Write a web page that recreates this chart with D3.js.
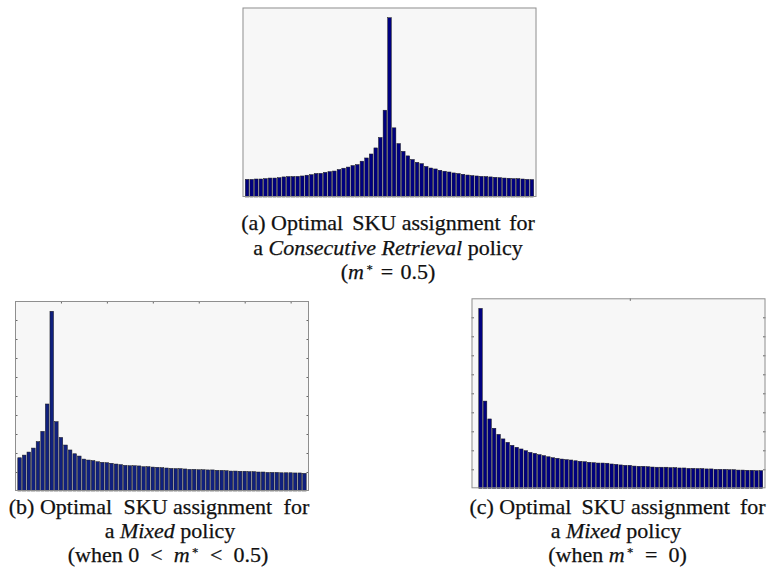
<!DOCTYPE html>
<html>
<head>
<meta charset="utf-8">
<script src="https://cdn.jsdelivr.net/npm/d3@7"></script>
<style>
  html, body { margin: 0; padding: 0; background: #ffffff; }
  svg { display: block; }
</style>
</head>
<body>
<svg id="fig" width="770" height="577"></svg>
<script>
// SKU slot positions along the aisle (1..63)
const slots = d3.range(1, 64);

// Share of picks assigned to each slot, per policy
const consecutiveShare = [
  0.93, 0.93, 0.95, 0.95, 0.97, 1.00, 1.00, 1.02, 1.06, 1.08,
  1.08, 1.09, 1.11, 1.15, 1.18, 1.24, 1.25, 1.30, 1.34, 1.37,
  1.45, 1.52, 1.58, 1.66, 1.71, 1.89, 2.06, 2.27, 2.59, 3.14,
  4.58, 9.46, 3.65, 2.82, 2.41, 2.17, 1.98, 1.83, 1.76, 1.61,
  1.53, 1.48, 1.41, 1.36, 1.32, 1.27, 1.24, 1.20, 1.16, 1.13,
  1.11, 1.09, 1.08, 1.06, 1.04, 1.02, 1.00, 0.99, 0.97, 0.97,
  0.95, 0.93, 0.92
];
const mixedShare = [
  1.75, 1.89, 2.05, 2.26, 2.60, 3.14, 4.58, 9.46, 3.65, 2.82,
  2.42, 2.16, 1.96, 1.84, 1.68, 1.63, 1.60, 1.54, 1.51, 1.49,
  1.46, 1.42, 1.39, 1.35, 1.33, 1.33, 1.32, 1.28, 1.28, 1.26,
  1.25, 1.23, 1.21, 1.19, 1.18, 1.18, 1.16, 1.14, 1.14, 1.12,
  1.12, 1.11, 1.11, 1.09, 1.09, 1.07, 1.05, 1.05, 1.04, 1.04,
  1.02, 1.02, 1.00, 1.00, 0.98, 0.98, 0.98, 0.96, 0.96, 0.96,
  0.95, 0.95, 0.93
];
const zeroShare = [
  9.47, 4.59, 3.65, 3.16, 2.84, 2.60, 2.42, 2.26, 2.16, 2.07,
  1.98, 1.89, 1.84, 1.77, 1.72, 1.66, 1.61, 1.58, 1.54, 1.51,
  1.49, 1.45, 1.42, 1.40, 1.37, 1.35, 1.33, 1.33, 1.32, 1.28,
  1.26, 1.23, 1.21, 1.21, 1.17, 1.16, 1.16, 1.14, 1.12, 1.11,
  1.11, 1.11, 1.09, 1.09, 1.07, 1.07, 1.05, 1.05, 1.04, 1.04,
  1.02, 1.02, 1.00, 1.00, 1.00, 0.98, 0.98, 0.96, 0.96, 0.95,
  0.95, 0.93, 0.93
];

// Axis tick values
const yTicks = [1, 2, 3, 4, 5, 6, 7, 8, 9];
const xTicksMixed = [10, 20, 30, 40, 50, 60];
const xTicksZero = [34];

const SERIF = "'Liberation Serif', Tinos, 'Times New Roman', 'DejaVu Serif', serif";
const svg = d3.select("#fig");

function panel(opt) {
  const x = d3.scaleLinear().domain(opt.xDomain).range([opt.left, opt.right]);
  const y = d3.scaleLinear().domain([0, 10]).range([opt.bottom, opt.top]);
  const g = svg.append("g");

  g.append("rect")
    .attr("x", opt.left).attr("y", opt.top)
    .attr("width", opt.right - opt.left).attr("height", opt.bottom - opt.top)
    .attr("fill", "#f7f7f7");

  const barW = 0.78;
  g.append("g").selectAll("rect")
    .data(slots)
    .join("rect")
    .attr("x", d => x(d - barW / 2))
    .attr("width", d => x(d + barW / 2) - x(d - barW / 2))
    .attr("y", (d, i) => y(opt.values[i]))
    .attr("height", (d, i) => y(0) - y(opt.values[i]))
    .attr("fill", opt.color)
    .attr("stroke", "#1a1a1a")
    .attr("stroke-width", 0.5);

  const tickStyle = sel => {
    sel.select(".domain").remove();
    sel.selectAll(".tick line").attr("stroke", "#666").attr("stroke-width", 1);
    sel.selectAll(".tick text").remove();
  };
  if (opt.yTicks) {
    g.append("g").attr("transform", `translate(${opt.left},0)`)
      .call(d3.axisRight(y).tickValues(opt.yTicks).tickSize(2.5)).call(tickStyle);
    g.append("g").attr("transform", `translate(${opt.right},0)`)
      .call(d3.axisLeft(y).tickValues(opt.yTicks).tickSize(2.5)).call(tickStyle);
  }
  if (opt.xTicks) {
    g.append("g").attr("transform", `translate(0,${opt.top})`)
      .call(d3.axisBottom(x).tickValues(opt.xTicks).tickSize(2.5)).call(tickStyle);
  }

  g.append("rect")
    .attr("x", opt.left + 0.5).attr("y", opt.top + 0.5)
    .attr("width", opt.right - opt.left - 1).attr("height", opt.bottom - opt.top - 1)
    .attr("fill", "none").attr("stroke", "#8f8f8f").attr("stroke-width", 1);
}

panel({ values: consecutiveShare, xDomain: [0, 64], left: 242.5, right: 536.5, top: 7.5, bottom: 197,
        color: "#000080" });
panel({ values: mixedShare, xDomain: [0, 64], left: 15, right: 309, top: 301, bottom: 491,
        color: "#10207e", yTicks: yTicks, xTicks: xTicksMixed });
panel({ values: zeroShare, xDomain: [-1, 64], left: 471.5, right: 765.5, top: 298.3, bottom: 488.3,
        color: "#000080", yTicks: yTicks, xTicks: xTicksZero });

// Captions: each line is a list of [text, style, dx]
function caption(cx, baselines, lines) {
  lines.forEach((segs, li) => {
    const t = svg.append("text")
      .attr("x", cx[li]).attr("y", baselines[li])
      .attr("text-anchor", "middle")
      .attr("font-family", SERIF)
      .attr("font-size", 22)
      .attr("fill", "#111")
      .attr("stroke", "#111")
      .attr("stroke-width", 0.25)
      .attr("xml:space", "preserve")
      .style("white-space", "pre");
    segs.forEach(([txt, style, dx]) => {
      const s = t.append("tspan").text(txt);
      if (style === "i") s.attr("font-style", "italic");
      if (style === "sup") s.attr("font-size", 11).attr("dy", -8);
      if (style === "down") s.attr("dy", 8);
      if (dx) s.attr("dx", dx);
    });
  });
}

// math operators get wider spacing, as in typeset equations
caption([388, 388, 388], [229.5, 254.5, 279], [
  [["(a) Optimal"], [" SKU", null, 3.5], [" assignment"], [" for", null, 3]],
  [["a "], ["Consecutive Retrieval", "i"], [" policy"]],
  [["("], ["m", "i"], ["∗", "sup", 2], ["\u2004=\u20040.5)", "down"]]
]);
caption([159, 170, 168], [513.5, 538, 561.5], [
  [["(b) Optimal"], [" SKU", null, 6], [" assignment"], [" for", null, 6]],
  [["a "], ["Mixed", "i"], [" policy"]],
  [["(when 0\u2002<\u2002"], ["m", "i"], ["∗", "sup", 2], ["\u2002<\u20020.5)", "down"]]
]);
caption([617.5, 616, 617.5], [513.5, 538, 561.5], [
  [["(c) Optimal"], [" SKU", null, 4.5], [" assignment"], [" for", null, 4.5]],
  [["a "], ["Mixed", "i"], [" policy"]],
  [["(when "], ["m", "i"], ["∗", "sup", 2], ["\u2002=\u20020)", "down"]]
]);
</script>
</body>
</html>
